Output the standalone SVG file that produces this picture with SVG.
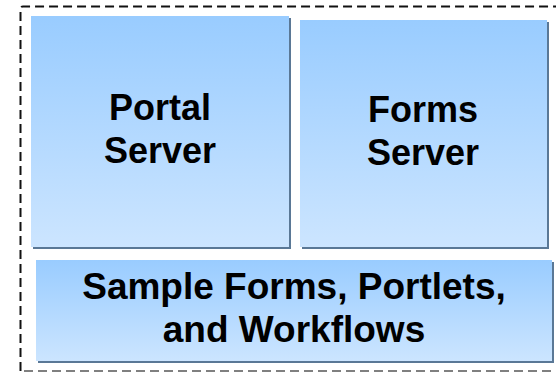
<svg xmlns="http://www.w3.org/2000/svg" width="556" height="372" viewBox="0 0 556 372">
  <defs>
    <linearGradient id="fill" x1="0" y1="0" x2="0" y2="1">
      <stop offset="0" stop-color="#99ccff"/>
      <stop offset="1" stop-color="#cce5ff"/>
    </linearGradient>
    <style>
      .box { fill: url(#fill); }
      .shadow { fill: #5a7896; }
      .label { font-family: "Liberation Sans", Arial, sans-serif; font-weight: bold; font-size: 36px; fill: #000; text-anchor: middle; }
      .big { font-size: 37px; }
      .dash { fill: none; stroke-width: 2; stroke-dasharray: 9 5; }
    </style>
  </defs>
  <rect width="556" height="372" fill="#ffffff"/>
  <g id="connectors">
    <path class="dash" d="M20.5,371 L20.5,9 Q20.5,6.5 23,6.5 L560,6.5" stroke="#111"/>
    <path class="dash" d="M24,371 L560,371" stroke="#808080"/>
  </g>
  <g id="portal-server">
    <rect class="shadow" x="33" y="18" width="258" height="231"/>
    <rect class="box" x="31" y="16" width="258" height="231"/>
    <text class="label" x="160" y="120">Portal</text>
    <text class="label" x="160" y="163">Server</text>
  </g>
  <g id="forms-server">
    <rect class="shadow" x="302" y="22" width="247" height="227"/>
    <rect class="box" x="300" y="20" width="247" height="227"/>
    <text class="label" x="423" y="122">Forms</text>
    <text class="label" x="423" y="165">Server</text>
  </g>
  <g id="samples">
    <rect class="shadow" x="38" y="262" width="516" height="101"/>
    <rect class="box" x="36" y="260" width="516" height="101"/>
    <text class="label big" x="294" y="299">Sample Forms, Portlets,</text>
    <text class="label big" x="294" y="342">and Workflows</text>
  </g>
</svg>
